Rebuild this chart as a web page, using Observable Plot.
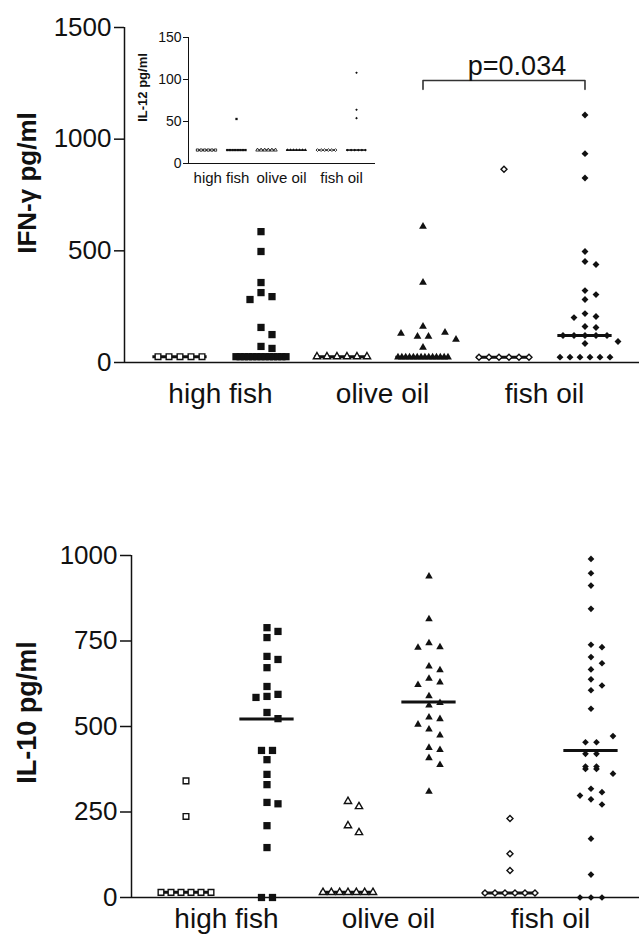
<!DOCTYPE html>
<html><head><meta charset="utf-8">
<script src="https://cdn.jsdelivr.net/npm/d3@7"></script>
<script src="https://cdn.jsdelivr.net/npm/@observablehq/plot@0.6"></script>
<style>
  html,body{margin:0;padding:0;background:#fff;}
  #fig{position:relative;width:639px;height:935px;overflow:hidden;background:#fff;}
  #fig svg{position:absolute;}
</style></head>
<body><div id="fig"></div>
<script>
// ---------- categories & encodings ----------
const groups = ["high fish", "olive oil", "fish oil"];
const groupTicks = [1.5, 3.5, 5.5];
const columns = [1, 2, 3, 4, 5, 6];
const symbols = ["square", "square", "triangle", "triangle", "diamond2", "diamond2"];
const filled = [false, true, false, true, false, true];

// ---------- IFN-γ (pg/ml), top panel ----------
const ifnTicks = [0, 500, 1000, 1500];
const ifnHighFishOpen = [26, 26, 26, 26, 26];
const ifnHighFishFilled = [586, 497, 358, 313, 295, 282, 157, 125, 72, 63,
  26, 26, 26, 26, 26, 26, 26, 26, 26, 26, 26, 26, 26];
const ifnOliveOpen = [26, 26, 26, 26, 26, 26];
const ifnOliveFilled = [609, 358, 161, 134, 130, 116, 116, 103, 67,
  24, 24, 24, 24, 24, 24, 24, 24, 24, 24, 24, 24, 24, 24];
const ifnFishOilOpen = [865, 24, 24, 24, 24, 24, 24];
const ifnFishOilFilled = [1108, 935, 826, 497, 452, 439, 322, 304, 282, 219, 206, 201, 161, 157,
  121, 121, 121, 121, 121, 94, 85, 24, 24, 24, 24, 24, 24];
const ifnMedians = [26, 26, 26, 24, 24, 121];
const bracketCols = [4, 6];
const bracketTop = 1263;
const bracketFoot = 1223;
const pLabel = "p=0.034";

// ---------- IL-12 (pg/ml), inset ----------
const il12Ticks = [0, 50, 100, 150];
const il12HighFishOpen = [16, 16, 16, 16, 16, 16];
const il12HighFishFilled = [53, 16, 16, 16, 16, 16, 16, 16, 16];
const il12OliveOpen = [16, 16, 16, 16, 16, 16];
const il12OliveFilled = [16, 16, 16, 16, 16, 16, 16];
const il12FishOilOpen = [16, 16, 16, 16, 16, 16];
const il12FishOilFilled = [108, 64, 54, 16, 16, 16, 16, 16, 16];
const il12Medians = [16, 16, 16, 16, 16, 16];

// ---------- IL-10 (pg/ml), bottom panel ----------
const il10Ticks = [0, 250, 500, 750, 1000];
const il10HighFishOpen = [341, 237, 15, 15, 15, 15, 15, 15];
const il10HighFishFilled = [789, 778, 760, 705, 696, 672, 617, 594, 588, 585, 541, 523,
  430, 430, 403, 360, 330, 278, 274, 210, 146, 0, 0];
const il10OliveOpen = [281, 266, 210, 190, 15, 15, 15, 15, 15, 15, 15];
const il10OliveFilled = [939, 814, 744, 732, 731, 676, 665, 640, 629, 622, 589, 569,
  562, 527, 522, 506, 492, 474, 438, 432, 408, 388, 310];
const il10FishOilOpen = [231, 128, 79, 13, 13, 13, 13, 13, 13];
const il10FishOilFilled = [990, 948, 912, 844, 739, 732, 703, 685, 667, 638, 620, 606, 552,
  472, 454, 454, 420, 420, 383, 383, 376, 376, 362, 318, 308, 298, 287, 272, 172, 67, 0, 0, 0];
const il10Medians = [15, 522, 15, 572, 13, 430];

// ---------- helpers ----------
const ink = "#111";
const font = "'Liberation Sans', Arial, Helvetica, sans-serif";

// scatter-dot layout: ties spread symmetrically, others nudged sideways to avoid overlap
function swarm(step, vgap, maxRow, options) {
  return Plot.initializer(options, (data, facets, channels, scales) => {
    const XV = channels.x.value, YV = channels.y.value;
    const X = new Float64Array(XV.length), Y = new Float64Array(YV.length);
    const F = facets ?? [d3.range(XV.length)];
    for (const I of F) {
      for (const G of d3.group(I, i => XV[i]).values()) {
        const cx = scales.x(XV[G[0]]);
        const placed = [];
        const ties = Array.from(d3.group(G, i => YV[i]).values());
        for (const T of ties.filter(t => t.length > 1)) {
          const py = scales.y(YV[T[0]]);
          const sp = Math.min(step, maxRow / (T.length - 1));
          T.forEach((i, j) => {
            const o = (j - (T.length - 1) / 2) * sp;
            X[i] = cx + o; Y[i] = py; placed.push([o, py]);
          });
        }
        const singles = ties.filter(t => t.length === 1).map(t => t[0]).sort((a, b) => YV[b] - YV[a]);
        for (const i of singles) {
          const py = scales.y(YV[i]);
          let off = 0;
          search: for (let k = 0; k < 60; k++) {
            for (const o of (k ? [k * step, -k * step] : [0])) {
              if (placed.every(([px, qy]) => Math.abs(px - o) >= step * 0.9 || Math.abs(qy - py) >= vgap)) { off = o; break search; }
            }
          }
          X[i] = cx + off; Y[i] = py; placed.push([off, py]);
        }
      }
    }
    return {data, facets, channels: {x: {value: X}, y: {value: Y}}};
  });
}

function buildPanel(p) {
  const marks = [
    Plot.ruleY([0], {stroke: ink, strokeWidth: p.axisWidth}),
    Plot.ruleX([p.xDomain[0]], {stroke: ink, strokeWidth: p.axisWidth}),
    Plot.axisY({ticks: p.yTicks, tickFormat: d => String(d), tickSize: p.tickSize, tickPadding: p.tickPadding,
      fontSize: p.tickFont, label: null, stroke: ink, strokeWidth: p.axisWidth, fill: ink}),
    Plot.ruleY(p.medians.map((m, k) => ({col: columns[k], value: m})), {
      y: "value", x1: d => d.col - 0.335, x2: d => d.col + 0.335, stroke: ink, strokeWidth: p.medianWidth})
  ];
  p.series.forEach((vals, k) => {
    const rows = vals.map(v => ({col: columns[k], value: v}));
    marks.push(Plot.dot(rows, swarm(p.step, p.vgap, p.maxRow, {
      x: "col", y: "value", symbol: symbols[k], r: p.r[k],
      fill: filled[k] ? ink : "white", stroke: filled[k] ? "none" : ink,
      strokeWidth: filled[k] ? 0 : p.openStroke
    })));
  });
  marks.push(Plot.text(groups, {x: (d, i) => groupTicks[i], frameAnchor: "bottom", lineAnchor: "top",
    dy: p.labelDy, fontSize: p.labelFont, fill: ink}));
  marks.push(Plot.text([p.yLabel], {x: p.xDomain[0], y: d3.mean(p.yDomain), textAnchor: "middle", rotate: -90,
    dx: p.yLabelDx, dy: p.yLabelDy, fontSize: p.yLabelFont, fontWeight: "bold", fill: ink}));
  if (p.extra) marks.push(...p.extra);
  return Plot.plot({
    width: p.width, height: p.height,
    marginLeft: p.marginLeft, marginRight: 0, marginTop: p.marginTop, marginBottom: p.marginBottom,
    x: {domain: p.xDomain, axis: null},
    y: {domain: p.yDomain},
    style: {fontFamily: font, background: "transparent", overflow: "visible", color: ink},
    marks
  });
}

const fig = document.getElementById("fig");

// top panel
const topPanel = buildPanel({
  width: 639, height: 420, marginLeft: 124, marginTop: 27, marginBottom: 58,
  xDomain: [0.3148, 6.673], yDomain: [0, 1500], yTicks: ifnTicks,
  series: [ifnHighFishOpen, ifnHighFishFilled, ifnOliveOpen, ifnOliveFilled, ifnFishOilOpen, ifnFishOilFilled],
  medians: ifnMedians,
  r: [3.2, 4.1, 2.7, 2.9, 2.7, 3.1], step: 11, vgap: 8, maxRow: 50, openStroke: 1.4,
  axisWidth: 1.5, tickSize: 10, tickPadding: 3, tickFont: 26, medianWidth: 3,
  labelDy: 21, labelFont: 28,
  yLabel: "IFN-γ pg/ml", yLabelDx: -97, yLabelDy: -12, yLabelFont: 26,
  extra: [
    Plot.line([[bracketCols[0], bracketFoot], [bracketCols[0], bracketTop], [bracketCols[1], bracketTop], [bracketCols[1], bracketFoot]],
      {stroke: "#333", strokeWidth: 1.6}),
    Plot.text([pLabel], {x: d3.mean(bracketCols), y: bracketTop, lineAnchor: "bottom", dy: -5, dx: 13, fontSize: 27, fill: ink})
  ]
});
topPanel.style.left = "0px"; topPanel.style.top = "0px";
fig.appendChild(topPanel);

// bottom panel
const bottomPanel = buildPanel({
  width: 639, height: 515, marginLeft: 131, marginTop: 135, marginBottom: 38,
  xDomain: [0.3272, 6.599], yDomain: [0, 1000], yTicks: il10Ticks,
  series: [il10HighFishOpen, il10HighFishFilled, il10OliveOpen, il10OliveFilled, il10FishOilOpen, il10FishOilFilled],
  medians: il10Medians,
  r: [3.2, 4.1, 2.7, 2.8, 2.7, 3.0], step: 11, vgap: 8, maxRow: 50, openStroke: 1.4,
  axisWidth: 1.5, tickSize: 11, tickPadding: 3, tickFont: 26, medianWidth: 3,
  labelDy: 11, labelFont: 28,
  yLabel: "IL-10 pg/ml", yLabelDx: -104, yLabelDy: -14, yLabelFont: 27
});
bottomPanel.style.left = "0px"; bottomPanel.style.top = "420px";
fig.appendChild(bottomPanel);

// inset (IL-12)
const insetPanel = buildPanel({
  width: 245, height: 170, marginLeft: 58, marginTop: 17, marginBottom: 27,
  xDomain: [0.4, 6.633], yDomain: [0, 150], yTicks: il12Ticks,
  series: [il12HighFishOpen, il12HighFishFilled, il12OliveOpen, il12OliveFilled, il12FishOilOpen, il12FishOilFilled],
  medians: il12Medians,
  r: [1.3, 1.3, 1.3, 1.2, 1.3, 1.2], step: 4, vgap: 3, maxRow: 18, openStroke: 0.8,
  axisWidth: 1, tickSize: 5, tickPadding: 2, tickFont: 14, medianWidth: 1.5,
  labelDy: 8.5, labelFont: 15,
  yLabel: "IL-12 pg/ml", yLabelDx: -46, yLabelDy: -13, yLabelFont: 13
});
insetPanel.style.left = "130px"; insetPanel.style.top = "20px";
fig.appendChild(insetPanel);
</script>
</body></html>
